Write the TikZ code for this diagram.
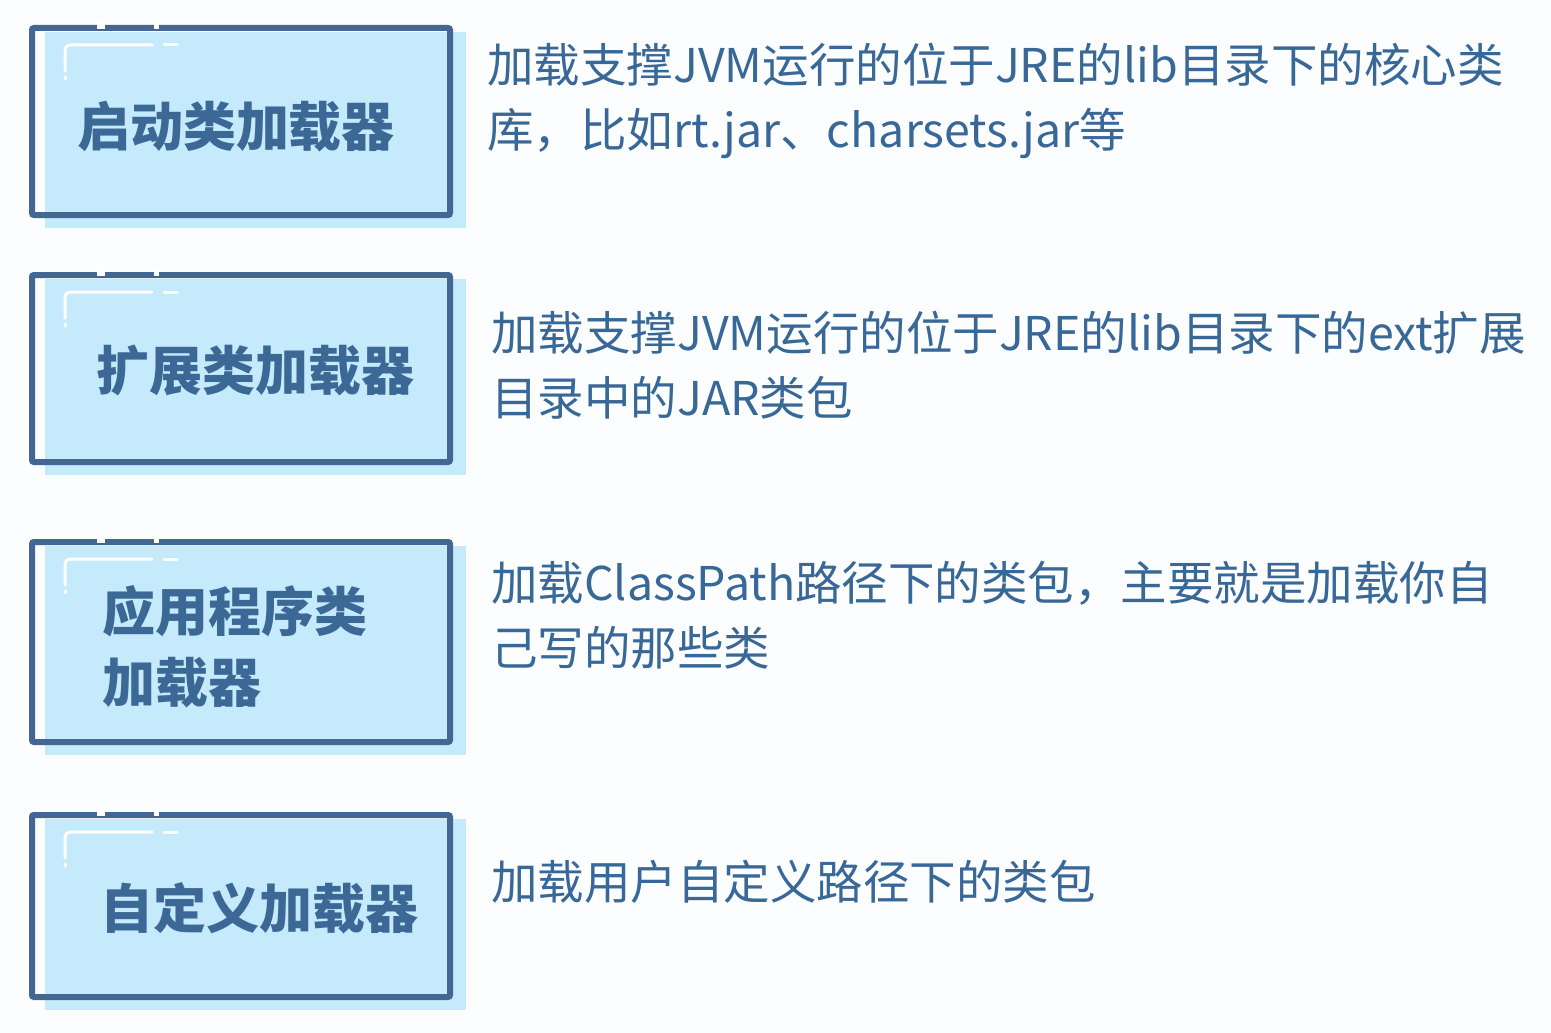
\documentclass[tikz,border=0pt]{standalone}
\usepackage{fontspec}
\newfontfamily\cjk{Noto Sans CJK SC}
\usetikzlibrary{backgrounds}
\definecolor{boxline}{RGB}{68,102,146}
\definecolor{boxfill}{RGB}{197,234,252}
\definecolor{labeltext}{RGB}{60,104,150}
\definecolor{desctext}{RGB}{56,104,152}
\definecolor{pagebg}{RGB}{252,253,254}
\tikzset{
  loaderbox/.style={draw=boxline,line width=6pt,rounded corners=2pt,minimum width=418pt,inner sep=0pt},
  loaderfill/.style={fill=boxfill},
  loaderlabel/.style={font=\cjk\bfseries\fontsize{53}{71}\selectfont,text=labeltext,inner sep=0pt,align=left},
  loaderdesc/.style={font=\cjk\fontsize{46.5}{65}\selectfont,text=desctext,inner sep=0pt,align=left,anchor=west},
  topgap/.style={draw=white,line width=8pt},
  glint/.style={draw=white,line width=3pt,line cap=round}
}
\begin{document}
\begin{tikzpicture}[x=1pt,y=-1pt]
  \useasboundingbox (0,0) rectangle (1551,1033);
  % the four loaders, outline only
  \node[loaderbox,minimum height=187pt] (b1) at (241,121.5) {};
  \node[loaderbox,minimum height=187pt] (b2) at (241,368.5) {};
  \node[loaderbox,minimum height=200pt] (b3) at (241,642) {};
  \node[loaderbox,minimum height=182pt] (b4) at (241,906) {};
  % shifted light fill behind each outline
  \begin{scope}[on background layer]
    \fill[pagebg] (0,0) rectangle (1551,1033);
    \foreach \b in {b1,b2,b3,b4}
      \fill[loaderfill] ([shift={(16,7)}]\b.north west) rectangle ([shift={(13,10)}]\b.south east);
  \end{scope}
  % breaks in the top edge and the white corner glint
  \foreach \b in {b1,b2,b3,b4}{
    \draw[topgap] ([xshift=68pt]\b.north west) -- ++(8,0);
    \draw[topgap] ([xshift=125pt]\b.north west) -- ++(5,0);
    \draw[glint,rounded corners=5pt] ([shift={(36,46)}]\b.north west) -- ++(0,-26) -- ++(87,0);
    \draw[glint] ([shift={(135,20)}]\b.north west) -- ++(13,0);
    \draw[glint] ([shift={(36,52)}]\b.north west) -- ++(0,2);
  }
  \node[loaderlabel] (l1) at (236,127) {启动类加载器};
  \node[loaderlabel] (l2) at (255,371) {扩展类加载器};
  \node[loaderlabel,anchor=west] (l3) at (102,647) {应用程序类\\加载器};
  \node[loaderlabel] (l4) at (259,908) {自定义加载器};
  \node[loaderdesc] (d1) at (487,100.5) {加载支撑JVM运行的位于JRE的lib目录下的核心类\\库，比如rt.jar、charsets.jar等};
  \node[loaderdesc] (d2) at (491,365) {加载支撑JVM运行的位于JRE的lib目录下的ext扩展\\目录中的JAR类包};
  \node[loaderdesc] (d3) at (491,615) {加载ClassPath路径下的类包，主要就是加载你自\\己写的那些类};
  \node[loaderdesc] (d4) at (491,882) {加载用户自定义路径下的类包};
\end{tikzpicture}
\end{document}
